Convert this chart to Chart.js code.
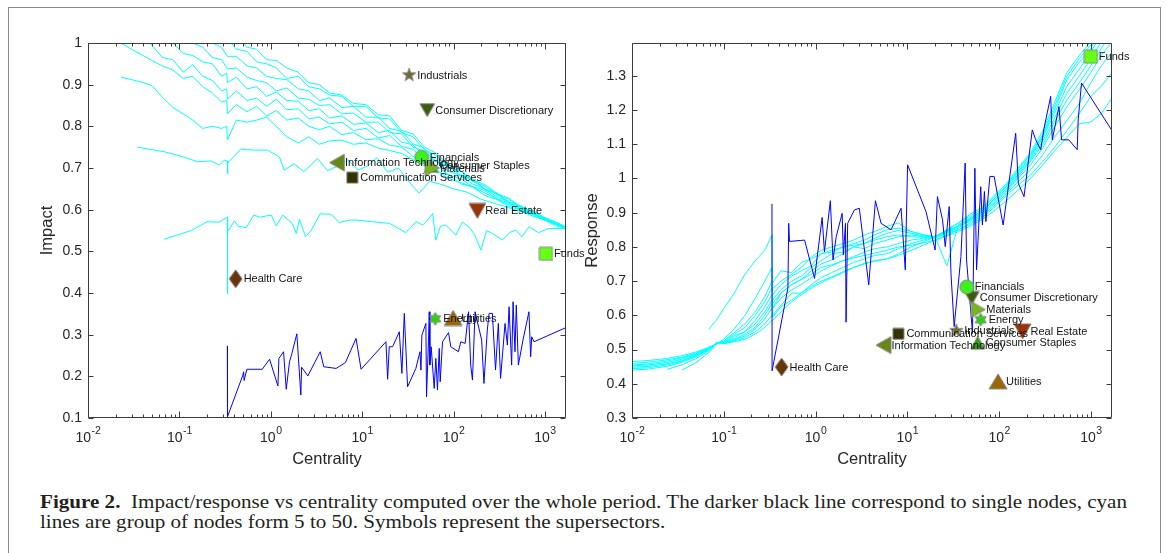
<!DOCTYPE html>
<html>
<head>
<meta charset="utf-8">
<script src="https://cdn.jsdelivr.net/npm/chart.js@4.4.1/dist/chart.umd.min.js"></script>
<style>
  body { margin: 0; background: #fff; width: 1167px; height: 553px; overflow: hidden; position: relative; }
  #frame { position: absolute; left: 8px; top: 7px; width: 1151px; height: 600px; border: 1px solid #8a8a8a; }
  #impactCanvas { position: absolute; left: 0; top: 0; z-index: 2; }
  #responseCanvas { position: absolute; left: 580px; top: 0; z-index: 1; }
  .cap { position: absolute; left: 40px; font-family: "Liberation Serif", "Times New Roman", serif; font-size: 19.5px;
         line-height: 20px; color: #231f20; white-space: nowrap; transform-origin: 0 0; }
</style>
</head>
<body>
<div id="frame"></div>
<canvas id="responseCanvas" width="587" height="480"></canvas>
<canvas id="impactCanvas" width="620" height="480"></canvas>
<div class="cap" id="cap1" style="top:492px"><b>Figure 2.</b>&nbsp; Impact/response vs centrality computed over the whole period. The darker black line correspond to single nodes, cyan</div>
<div class="cap" id="cap2" style="top:512px">lines are group of nodes form 5 to 50. Symbols represent the supersectors.</div>
<script>
// ---- left panel: impact vs centrality ----
const impactGridX = [0.02, 0.023, 0.03, 0.04, 0.05, 0.065, 0.085, 0.11, 0.14, 0.18, 0.23, 0.29, 0.33, 0.335, 0.42, 0.55, 0.7, 0.9,
  1.15, 1.5, 2, 2.6, 3.4, 4.4, 6, 8, 11, 15, 20, 27, 36, 48, 65, 88, 120, 160, 220, 300, 400, 550, 750, 1000, 1300, 1700];

const impF = [null, 0.918, 0.912, 0.905, 0.898, 0.87, 0.845, 0.83, 0.815, 0.795, 0.80, 0.795, 0.80, 0.767, 0.815, 0.81, 0.815, 0.822,
  0.80, 0.775, 0.76, 0.775, 0.757, 0.765, 0.767, 0.757, 0.76, 0.748, 0.742, 0.735, 0.72, 0.705, 0.695, 0.675, 0.665, 0.655, 0.64, 0.625, 0.612, 0.60, 0.588, 0.578, 0.566, 0.556];
const impU1 = [1.02, 1.0, 0.985, 0.97, 0.958, 0.945, 0.935, 0.915, 0.92, 0.895, 0.88, 0.858, 0.862, 0.83, 0.852, 0.835, 0.848, 0.825,
  0.838, 0.815, 0.82, 0.80, 0.792, 0.80, 0.78, 0.785, 0.768, 0.77, 0.755, 0.75, 0.728, 0.715, 0.69, 0.684, 0.662, 0.655, 0.634, 0.624, 0.608, 0.598, 0.584, 0.575, 0.562, 0.553];
const impU2 = [null, null, null, 1.02, 0.995, 0.965, 0.96, 0.93, 0.948, 0.92, 0.91, 0.885, 0.89, 0.865, 0.885, 0.862, 0.868, 0.848,
  0.865, 0.84, 0.842, 0.818, 0.822, 0.806, 0.81, 0.79, 0.795, 0.772, 0.778, 0.752, 0.745, 0.718, 0.705, 0.684, 0.674, 0.656, 0.646, 0.626, 0.616, 0.598, 0.59, 0.575, 0.566, 0.555];
const impU3 = [null, null, null, null, null, 1.03, 1.0, 0.975, 0.97, 0.955, 0.95, 0.92, 0.928, 0.905, 0.918, 0.89, 0.895, 0.872,
  0.882, 0.862, 0.86, 0.838, 0.842, 0.82, 0.825, 0.805, 0.808, 0.785, 0.79, 0.762, 0.756, 0.726, 0.716, 0.692, 0.682, 0.662, 0.65, 0.63, 0.62, 0.601, 0.592, 0.577, 0.567, 0.556];
const impU4 = [null, null, null, null, null, null, null, 1.03, 1.0, 0.99, 0.965, 0.96, 0.94, 0.938, 0.94, 0.918, 0.91, 0.905,
  0.885, 0.892, 0.868, 0.865, 0.85, 0.852, 0.83, 0.832, 0.81, 0.81, 0.785, 0.782, 0.75, 0.74, 0.715, 0.704, 0.68, 0.672, 0.648, 0.638, 0.616, 0.606, 0.588, 0.578, 0.566, 0.557];
const impU5 = [null, null, null, null, null, null, null, null, null, 1.03, 1.0, 0.99, 0.97, 0.968, 0.968, 0.945, 0.94, 0.92,
  0.915, 0.912, 0.89, 0.885, 0.862, 0.868, 0.845, 0.848, 0.822, 0.822, 0.795, 0.788, 0.758, 0.748, 0.716, 0.71, 0.683, 0.674, 0.65, 0.64, 0.618, 0.609, 0.59, 0.581, 0.567, 0.557];
const impU6 = [null, null, null, null, null, null, null, null, null, null, null, null, 1.02, 1.01, 0.985, 0.98, 0.955, 0.95,
  0.94, 0.915, 0.92, 0.895, 0.89, 0.875, 0.872, 0.848, 0.848, 0.82, 0.818, 0.785, 0.775, 0.744, 0.73, 0.702, 0.692, 0.668, 0.657, 0.635, 0.625, 0.605, 0.595, 0.579, 0.57, 0.558];
const impU7 = [null, null, null, null, null, null, null, null, null, null, null, null, null, null, 1.015, 0.99, 0.985, 0.96,
  0.958, 0.94, 0.93, 0.905, 0.9, 0.88, 0.875, 0.855, 0.852, 0.828, 0.825, 0.79, 0.782, 0.75, 0.735, 0.708, 0.694, 0.672, 0.66, 0.638, 0.628, 0.606, 0.597, 0.58, 0.571, 0.558];

const impGX = [0.0345, 0.0686, 0.109, 0.159, 0.222, 0.274, 0.31, 0.335, 0.336, 0.34, 0.47, 0.66, 0.92, 1.24, 1.4, 1.8, 2.3, 3.24, 4.17, 5.37,
  7, 9, 11.5, 14.5, 19, 25, 33, 42, 55, 75, 100, 140, 200, 280, 400, 550, 750, 1000, 1300, 1700];
const impGY = [0.75, 0.739, 0.727, 0.715, 0.717, 0.707, 0.719, 0.717, 0.686, 0.712, 0.745, 0.743, 0.743, 0.727, 0.695, 0.71, 0.691, 0.723, 0.694, 0.704,
  0.72, 0.695, 0.705, 0.725, 0.69, 0.70, 0.665, 0.64, 0.668, 0.66, 0.65, 0.642, 0.625, 0.615, 0.605, 0.595, 0.585, 0.575, 0.565, 0.555];

const impHX = [0.068, 0.135, 0.2, 0.27, 0.335, 0.336, 0.338, 0.40, 0.44, 0.54, 0.65, 0.76, 1.01, 1.15, 1.35, 1.72, 1.9, 2.06, 2.4, 2.77,
  3.47, 4.57, 5.6, 7.2, 8.6, 13, 20, 30, 39, 46, 52, 59, 64, 72, 82, 106, 125, 148, 170, 199, 230, 266, 342, 410, 479, 560, 669, 850, 1106, 1700];
const impHY = [0.529, 0.55, 0.571, 0.57, 0.582, 0.398, 0.547, 0.573, 0.56, 0.557, 0.587, 0.582, 0.587, 0.561, 0.587, 0.567, 0.543, 0.577, 0.535, 0.55,
  0.59, 0.589, 0.569, 0.575, 0.575, 0.571, 0.567, 0.545, 0.571, 0.563, 0.575, 0.591, 0.527, 0.56, 0.563, 0.539, 0.57, 0.558, 0.54, 0.503, 0.55, 0.543, 0.527, 0.545, 0.551, 0.535, 0.559, 0.545, 0.555, 0.555];

const impNodeX = [0.335, 0.336, 0.495, 0.505, 0.51, 0.548, 0.807, 0.97, 1.197, 1.227, 1.38, 1.476, 1.603, 1.698, 1.928, 2.133, 2.173, 2.547, 3.475, 3.8,
  5.19, 6.56, 8.57, 9.73, 18.2, 19.0, 19.8, 21.5, 25.5, 27.2, 28.9, 31.4, 38.7, 42.9, 44.0, 45.0, 49.8, 50.6, 53.2, 54.2, 55.1, 56.9, 61.4, 64.0, 66.7,
  69.7, 71.4, 75.7, 88.1, 93.3, 113, 120, 134, 146, 154, 161, 172, 203, 215, 234, 245, 266, 288, 309, 327, 366, 388, 405, 432, 448, 470, 486, 512, 575,
  668, 698, 716, 759, 1700];
const impNodeY = [0.273, 0.103, 0.203, 0.211, 0.19, 0.217, 0.217, 0.241, 0.177, 0.243, 0.259, 0.169, 0.235, 0.254, 0.302, 0.155, 0.222, 0.201, 0.259, 0.223,
  0.219, 0.233, 0.291, 0.217, 0.283, 0.193, 0.271, 0.271, 0.307, 0.207, 0.351, 0.175, 0.219, 0.259, 0.215, 0.299, 0.327, 0.151, 0.287, 0.355, 0.227, 0.271, 0.171, 0.243, 0.167,
  0.267, 0.187, 0.283, 0.305, 0.271, 0.259, 0.283, 0.279, 0.355, 0.227, 0.191, 0.355, 0.287, 0.183, 0.311, 0.351, 0.351, 0.215, 0.327, 0.195, 0.327, 0.275, 0.367, 0.227, 0.379, 0.259, 0.371, 0.227, 0.287,
  0.355, 0.247, 0.295, 0.283, 0.317];

// ---- right panel: response vs centrality ----
const respGridX = [0.01, 0.015, 0.024, 0.035, 0.05, 0.069, 0.085, 0.1, 0.13, 0.17, 0.22, 0.28, 0.335, 0.34, 0.42, 0.55, 0.7, 0.9,
  1.15, 1.5, 2, 2.6, 3.4, 4.4, 6, 8, 11, 15, 20, 27, 36, 48, 65, 88, 120, 160, 220, 300, 400, 550, 750, 1000, 1300, 1700];

const respR1 = [null, null, null, null, null, 0.56, 0.59, 0.62, 0.665, 0.72, 0.76, 0.79, 0.835, 0.595, 0.625, 0.645, 0.665, 0.685,
  0.70, 0.712, 0.728, 0.74, 0.752, 0.758, 0.765, 0.775, 0.79, 0.805, 0.82, 0.832, 0.845, 0.86, 0.88, 0.905, 0.935, 0.965, 1.0, 1.04, 1.08, 1.12, 1.16, 1.165, 1.19, 1.235];
const respR2 = [0.465, 0.468, 0.474, 0.482, 0.493, 0.507, 0.518, 0.53, 0.56, 0.60, 0.65, 0.70, 0.74, 0.62, 0.665, 0.69, 0.705, 0.72,
  0.74, 0.748, 0.76, 0.768, 0.775, 0.782, 0.79, 0.80, 0.805, 0.812, 0.82, 0.835, 0.85, 0.865, 0.885, 0.915, 0.95, 0.98, 1.01, 1.05, 1.09, 1.14, 1.19, 1.24, 1.27, 1.31];
const respR3 = [0.46, 0.463, 0.47, 0.478, 0.49, 0.505, 0.518, 0.525, 0.55, 0.575, 0.61, 0.655, 0.70, 0.695, 0.73, 0.725, 0.755, 0.765,
  0.78, 0.79, 0.80, 0.805, 0.81, 0.82, 0.83, 0.835, 0.83, 0.828, 0.825, 0.84, 0.85, 0.87, 0.89, 0.92, 0.955, 0.99, 1.025, 1.07, 1.12, 1.17, 1.22, 1.28, 1.33, 1.37];
const respR4 = [0.455, 0.458, 0.466, 0.476, 0.488, 0.503, 0.517, 0.525, 0.545, 0.565, 0.60, 0.64, 0.68, 0.678, 0.70, 0.72, 0.74, 0.77,
  0.79, 0.80, 0.81, 0.82, 0.835, 0.845, 0.86, 0.87, 0.845, 0.835, 0.83, 0.845, 0.86, 0.875, 0.895, 0.925, 0.96, 1.0, 1.04, 1.09, 1.15, 1.21, 1.26, 1.31, 1.36, 1.40];
const respR5 = [0.452, 0.455, 0.462, 0.472, 0.486, 0.503, 0.52, 0.522, 0.54, 0.552, 0.585, 0.625, 0.66, 0.66, 0.69, 0.715, 0.73, 0.745,
  0.78, 0.785, 0.80, 0.81, 0.82, 0.835, 0.85, 0.855, 0.845, 0.835, 0.83, 0.842, 0.855, 0.878, 0.90, 0.93, 0.965, 1.005, 1.05, 1.10, 1.165, 1.23, 1.28, 1.33, 1.38, 1.43];
const respR6 = [0.448, 0.451, 0.458, 0.468, 0.484, 0.502, 0.52, 0.52, 0.535, 0.552, 0.575, 0.61, 0.645, 0.645, 0.675, 0.70, 0.715, 0.74,
  0.76, 0.78, 0.785, 0.80, 0.81, 0.825, 0.84, 0.848, 0.84, 0.832, 0.83, 0.845, 0.86, 0.88, 0.905, 0.935, 0.97, 1.01, 1.055, 1.11, 1.175, 1.25, 1.30, 1.35, 1.40, 1.45];
const respR7 = [0.444, 0.447, 0.455, 0.466, 0.482, 0.501, 0.521, 0.52, 0.53, 0.545, 0.565, 0.60, 0.635, 0.635, 0.665, 0.69, 0.705, 0.73,
  0.75, 0.762, 0.78, 0.80, 0.795, 0.81, 0.82, 0.83, 0.835, 0.83, 0.83, 0.848, 0.862, 0.882, 0.905, 0.94, 0.975, 1.015, 1.06, 1.12, 1.19, 1.27, 1.32, 1.37, 1.42, 1.47];
const respR8 = [0.44, 0.443, 0.451, 0.463, 0.479, 0.5, 0.521, 0.518, 0.528, 0.54, 0.56, 0.59, 0.62, 0.62, 0.65, 0.675, 0.69, 0.71,
  0.73, 0.745, 0.76, 0.772, 0.785, 0.795, 0.80, 0.81, 0.82, 0.825, 0.83, 0.745, 0.865, 0.885, 0.905, 0.94, 0.978, 1.02, 1.065, 1.125, 1.2, 1.29, 1.34, 1.38, 1.44, 1.49];
const respR9 = [null, null, 0.442, 0.455, 0.474, 0.497, 0.52, 0.518, 0.525, 0.535, 0.552, 0.575, 0.60, 0.60, 0.63, 0.665, 0.665, 0.69,
  0.71, 0.725, 0.74, 0.755, 0.765, 0.775, 0.78, 0.795, 0.81, 0.82, 0.83, 0.85, 0.87, 0.89, 0.91, 0.945, 0.98, 1.025, 1.07, 1.13, 1.21, 1.30, 1.35, 1.39, 1.45, 1.5];
const respR10 = [null, null, null, 0.44, 0.462, 0.492, 0.52, 0.517, 0.523, 0.53, 0.545, 0.565, 0.585, 0.585, 0.61, 0.64, 0.66, 0.68,
  0.695, 0.71, 0.725, 0.74, 0.75, 0.76, 0.765, 0.78, 0.80, 0.815, 0.83, 0.85, 0.87, 0.895, 0.915, 0.95, 0.985, 1.03, 1.075, 1.14, 1.22, 1.31, 1.36, 1.40, 1.46, 1.52];

const respNodeX = [0.335, 0.336, 0.50, 0.51, 0.52, 0.76, 0.975, 1.18, 1.25, 1.45, 1.55, 1.68, 1.95, 2.01, 2.12, 2.15, 2.24, 2.65, 3.0, 3.8,
  4.49, 5.18, 6.65, 8.55, 9.5, 10.07, 16, 20.1, 21.3, 24.2, 25.9, 28.6, 29.9, 32.4, 38.4, 42.7, 44.2, 51.3, 54.5, 56.8, 63.1, 65.8, 69.2, 71.8,
  79.4, 88.3, 110.7, 151.7, 162, 187, 230, 251, 284, 309, 365, 380, 449, 480, 575, 710, 728, 791, 1700];
const respNodeY = [0.926, 0.438, 0.68, 0.869, 0.816, 0.82, 0.708, 0.886, 0.786, 0.935, 0.762, 0.83, 0.898, 0.777, 0.869, 0.58, 0.869, 0.908, 0.913, 0.689,
  0.935, 0.869, 0.85, 0.913, 0.733, 1.04, 0.903, 0.791, 0.947, 0.879, 0.801, 0.918, 0.723, 0.567, 0.772, 1.045, 0.762, 0.55, 1.03, 0.733, 0.976, 0.864, 0.962, 0.874,
  1.006, 1.006, 0.864, 1.132, 0.986, 0.947, 1.142, 1.113, 1.084, 1.147, 1.24, 1.113, 1.21, 1.113, 1.113, 1.084, 1.171, 1.279, 1.14];

// ---- supersectors ----
const sectors = ['Industrials', 'Consumer Discretionary', 'Financials', 'Consumer Staples', 'Materials', 'Information Technology',
  'Communication Services', 'Real Estate', 'Funds', 'Health Care', 'Energy', 'Utilities'];
const impactSectorX = [32.7, 51.5, 44.8, 57, 58.3, 5.3, 7.8, 182, 1026, 0.413, 63, 99];
const impactSectorY = [0.923, 0.839, 0.726, 0.705, 0.70, 0.713, 0.677, 0.597, 0.494, 0.434, 0.338, 0.34];
const respSectorX = [34.2, 50.5, 44.5, 58.5, 59.3, 5.5, 8.0, 180, 1000, 0.427, 63, 97.5];
const respSectorY = [0.555, 0.651, 0.683, 0.52, 0.617, 0.513, 0.546, 0.553, 1.356, 0.449, 0.587, 0.407];

const sectorShape = ['star5', 'down', 'circle', 'up', 'right', 'left', 'square', 'down', 'square', 'diamond', 'star6', 'up'];
const sectorColor = ['#6e6a30', '#3b5e0d', '#3ef01c', '#2f9b12', '#78b51e', '#66881a', '#343300', '#9a3306', '#66ff16', '#66360a', '#36cc1a', '#9a6608'];
const sectorSize = [[14, 14], [15, 13], [14, 14], [14, 13], [14, 16], [15, 17], [11, 11], [17, 15], [13, 13], [13, 18], [13, 13], [18, 15]];

const decades = [-2, -1, 0, 1, 2, 3];

// marker sprites for the point styles
function makeMarker(shape, fill, w, h) {
  const c = document.createElement('canvas');
  c.width = w + 2; c.height = h + 2;
  const g = c.getContext('2d');
  const cx = c.width / 2, cy = c.height / 2, rx = w / 2, ry = h / 2;
  g.beginPath();
  if (shape === 'circle') g.ellipse(cx, cy, rx, ry, 0, 0, Math.PI * 2);
  else if (shape === 'square') g.rect(cx - rx, cy - ry, w, h);
  else if (shape === 'diamond') { g.moveTo(cx, cy - ry); g.lineTo(cx + rx, cy); g.lineTo(cx, cy + ry); g.lineTo(cx - rx, cy); }
  else if (shape === 'up') { g.moveTo(cx, cy - ry); g.lineTo(cx + rx, cy + ry); g.lineTo(cx - rx, cy + ry); }
  else if (shape === 'down') { g.moveTo(cx, cy + ry); g.lineTo(cx + rx, cy - ry); g.lineTo(cx - rx, cy - ry); }
  else if (shape === 'left') { g.moveTo(cx - rx, cy); g.lineTo(cx + rx, cy - ry); g.lineTo(cx + rx, cy + ry); }
  else if (shape === 'right') { g.moveTo(cx + rx, cy); g.lineTo(cx - rx, cy - ry); g.lineTo(cx - rx, cy + ry); }
  else {
    const n = shape === 'star5' ? 5 : 6, inner = shape === 'star5' ? 0.4 : 0.58;
    for (let k = 0; k < n * 2; k++) {
      const r = k % 2 ? inner : 1, a = -Math.PI / 2 + k * Math.PI / n;
      g.lineTo(cx + Math.cos(a) * rx * r, cy + Math.sin(a) * ry * r);
    }
  }
  g.closePath();
  g.fillStyle = fill; g.fill();
  g.strokeStyle = 'rgba(130,130,130,0.9)'; g.lineWidth = 1; g.stroke();
  return c;
}
const sectorSprites = sectors.map((s, i) => makeMarker(sectorShape[i], sectorColor[i], sectorSize[i][0], sectorSize[i][1]));

const pts = (xs, ys) => xs.map((x, i) => ({ x: x, y: ys[i] }));

const FONT = '"Liberation Sans", Arial, sans-serif';
const INK = '#262626';

// box with inward ticks on all four sides (matlab style)
const boxTicks = {
  id: 'boxTicks',
  afterDatasetsDraw(chart) {
    const { ctx, chartArea: a, scales: { x, y } } = chart;
    const L = Math.round(a.left) + 0.5, R = Math.round(a.right) - 0.5, T = Math.round(a.top) + 0.5, B = Math.round(a.bottom) - 0.5;
    ctx.save();
    ctx.strokeStyle = '#3c3c3c';
    ctx.lineWidth = 1;
    ctx.beginPath();
    ctx.rect(L, T, R - L, B - T);
    y.ticks.forEach(t => {
      const py = Math.round(y.getPixelForValue(t.value)) + 0.5;
      ctx.moveTo(L, py); ctx.lineTo(L + 5, py);
      ctx.moveTo(R, py); ctx.lineTo(R - 5, py);
    });
    decades.forEach(e => {
      for (let m = 1; m <= 9; m++) {
        const v = m * Math.pow(10, e);
        if (v < x.min || v > x.max) continue;
        const px = Math.round(x.getPixelForValue(v)) + 0.5;
        const len = m === 1 ? 6 : 3;
        ctx.moveTo(px, B); ctx.lineTo(px, B - len);
        ctx.moveTo(px, T); ctx.lineTo(px, T + len);
      }
    });
    ctx.stroke();

    // decade labels 10^e with a raised exponent
    ctx.fillStyle = INK;
    ctx.textBaseline = 'alphabetic';
    decades.forEach(e => {
      const px = x.getPixelForValue(Math.pow(10, e));
      ctx.font = '14px ' + FONT;
      const wb = ctx.measureText('10').width;
      ctx.font = '10.5px ' + FONT;
      const we = ctx.measureText(String(e)).width;
      const x0 = px - (wb + we) / 2;
      ctx.font = '14px ' + FONT;
      ctx.fillText('10', x0, B + 24);
      ctx.font = '10.5px ' + FONT;
      ctx.fillText(String(e), x0 + wb + 0.5, B + 16);
    });
    ctx.restore();
  }
};

const sectorLabels = {
  id: 'sectorLabels',
  afterDatasetsDraw(chart) {
    const { ctx } = chart;
    const meta = chart.getDatasetMeta(0);
    ctx.save();
    ctx.font = '11px ' + FONT;
    ctx.fillStyle = '#141414';
    ctx.textBaseline = 'middle';
    meta.data.forEach((pt, i) => ctx.fillText(sectors[i], pt.x + 8, pt.y + 0.5));
    ctx.restore();
  }
};

function buildChart(canvasId, cfg) {
  const datasets = [{
    data: pts(cfg.sectorX, cfg.sectorY),
    pointStyle: sectorSprites,
    pointRadius: 7,
    showLine: false,
    clip: false,
    order: 0
  }, {
    data: pts(cfg.nodeX, cfg.nodeY),
    showLine: true, borderColor: '#0000ff', borderWidth: 1, pointRadius: 0, order: 1
  }];
  cfg.groups.forEach(gp => datasets.push({
    data: pts(gp[0], gp[1]),
    showLine: true, borderColor: '#00ffff', borderWidth: 1, pointRadius: 0, order: 2
  }));

  return new Chart(document.getElementById(canvasId), {
    type: 'scatter',
    data: { datasets: datasets },
    options: {
      responsive: false,
      animation: false,
      devicePixelRatio: 1,
      layout: { padding: cfg.padding },
      plugins: { legend: { display: false }, tooltip: { enabled: false } },
      scales: {
        x: {
          type: 'logarithmic', min: 0.01, max: 1700,
          grid: { display: false, drawTicks: false }, border: { display: false },
          ticks: { display: false },
          title: { display: true, text: 'Centrality', color: INK, font: { family: FONT, size: 16.5 }, padding: { top: 0, bottom: 11 } },
          afterFit: s => { s.height = 62; }
        },
        y: {
          min: cfg.yMin, max: cfg.yMax,
          grid: { display: false, drawTicks: false }, border: { display: false },
          ticks: { stepSize: 0.1, includeBounds: false, padding: 6, color: INK, font: { family: FONT, size: 14 },
                   callback: v => String(+v.toFixed(1)) },
          title: { display: true, text: cfg.yTitle, color: INK, font: { family: FONT, size: 16.5 }, padding: { top: cfg.yTitlePad, bottom: 0 } },
          afterFit: s => { s.width = cfg.yWidth; }
        }
      }
    },
    plugins: [boxTicks, sectorLabels]
  });
}

buildChart('impactCanvas', {
  sectorX: impactSectorX, sectorY: impactSectorY,
  nodeX: impNodeX, nodeY: impNodeY,
  groups: [[impactGridX, impU1], [impactGridX, impU2], [impactGridX, impU3], [impactGridX, impU4], [impactGridX, impU5],
           [impactGridX, impU6], [impactGridX, impU7], [impactGridX, impF], [impGX, impGY], [impHX, impHY]],
  yMin: 0.1, yMax: 1, yTitle: 'Impact', yTitlePad: 8, yWidth: 58,
  padding: { left: 30, top: 43, right: 54, bottom: 0 }
});

buildChart('responseCanvas', {
  sectorX: respSectorX, sectorY: respSectorY,
  nodeX: respNodeX, nodeY: respNodeY,
  groups: [[respGridX, respR1], [respGridX, respR2], [respGridX, respR3], [respGridX, respR4], [respGridX, respR5],
           [respGridX, respR6], [respGridX, respR7], [respGridX, respR8], [respGridX, respR9], [respGridX, respR10]],
  yMin: 0.3, yMax: 1.396, yTitle: 'Response', yTitlePad: 0, yWidth: 49,
  padding: { left: 3, top: 43, right: 55, bottom: 0 }
});

// stretch the caption to the width it has in the figure
const cap1 = document.getElementById('cap1'), cap2 = document.getElementById('cap2');
const k = 1087 / cap1.getBoundingClientRect().width;
cap1.style.transform = 'scaleX(' + k + ')';
cap2.style.transform = 'scaleX(' + k + ')';
</script>
</body>
</html>
